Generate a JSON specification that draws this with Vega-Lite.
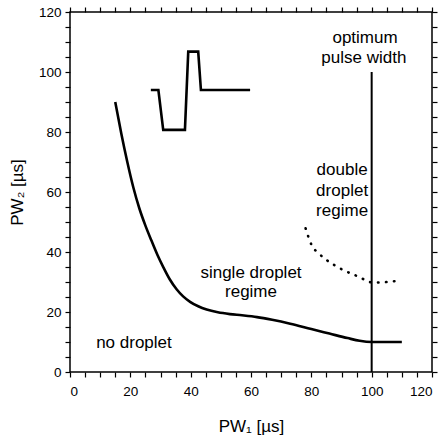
{
  "$schema": "https://vega.github.io/schema/vega-lite/v6.json",
  "width": 362,
  "height": 360,
  "autosize": {"type": "none"},
  "padding": {"left": 70, "top": 12, "right": 13, "bottom": 71},
  "background": "white",
  "config": {
    "view": {"stroke": null},
    "font": "Liberation Sans",
    "axis": {
      "labelFont": "Liberation Sans",
      "labelFontSize": 13.5,
      "labelColor": "black",
      "titleFont": "Liberation Sans",
      "titleFontSize": 17,
      "titleFontWeight": "normal",
      "titleColor": "black"
    }
  },
  "datasets": {
    "main": [
      {"x": 15, "y": 90}, {"x": 17, "y": 79.5}, {"x": 19, "y": 70}, {"x": 21, "y": 61.5}, {"x": 23, "y": 54.5},
      {"x": 25, "y": 48.8}, {"x": 27, "y": 43.8}, {"x": 29, "y": 39}, {"x": 31, "y": 34.8}, {"x": 33, "y": 31},
      {"x": 35.4, "y": 27.5}, {"x": 37.5, "y": 25.2},
      {"x": 39.8, "y": 23.4}, {"x": 42.5, "y": 21.9}, {"x": 45.3, "y": 20.8}, {"x": 49, "y": 19.9}, {"x": 53, "y": 19.3}, {"x": 57, "y": 18.9}, {"x": 62, "y": 18.3},
      {"x": 67, "y": 17.4}, {"x": 73, "y": 16.1}, {"x": 80, "y": 14.3}, {"x": 86, "y": 12.8},
      {"x": 92, "y": 11.3}, {"x": 96, "y": 10.4}, {"x": 100, "y": 10}, {"x": 110, "y": 10}
    ],
    "dotted": [
      {"x": 78.1, "y": 47.9}, {"x": 80.1, "y": 42.3}, {"x": 82.5, "y": 39.5}, {"x": 85.1, "y": 37.3},
      {"x": 90.6, "y": 34}, {"x": 95.6, "y": 31.8}, {"x": 100.5, "y": 29.8}, {"x": 105, "y": 30},
      {"x": 110, "y": 30.6}
    ],
    "optimum": [{"x": 100, "y": 0}, {"x": 100, "y": 100}],
    "inset": [
      {"i": 0, "x": 26.8, "y": 94}, {"i": 1, "x": 29.3, "y": 94}, {"i": 2, "x": 30.9, "y": 80.7},
      {"i": 3, "x": 38.1, "y": 80.7}, {"i": 4, "x": 39.2, "y": 106.8}, {"i": 5, "x": 42.5, "y": 106.8},
      {"i": 6, "x": 43.4, "y": 94}, {"i": 7, "x": 59.7, "y": 94}
    ],
    "frame": [
      {"i": 0, "x": 0, "y": 0}, {"i": 1, "x": 120, "y": 0}, {"i": 2, "x": 120, "y": 120},
      {"i": 3, "x": 0, "y": 120}, {"i": 4, "x": 0, "y": 0}
    ],
    "labels": [
      {"x": 97.8, "y": 111.3, "text": "optimum"},
      {"x": 97.4, "y": 104.7, "text": "pulse width"},
      {"x": 90.2, "y": 67.3, "text": "double"},
      {"x": 90.2, "y": 60.3, "text": "droplet"},
      {"x": 90.2, "y": 53.7, "text": "regime"},
      {"x": 60, "y": 32.9, "text": "single droplet"},
      {"x": 60, "y": 26.8, "text": "regime"},
      {"x": 21.2, "y": 9.6, "text": "no droplet"}
    ]
  },
  "layer": [
    {
      "data": {"name": "main"},
      "mark": {"type": "line", "color": "black", "strokeWidth": 2.6, "interpolate": "monotone"},
      "encoding": {
        "x": {
          "field": "x", "type": "quantitative",
          "scale": {"domain": [0, 120], "nice": false},
          "axis": {
            "orient": "bottom",
            "domain": false,
            "ticks": true, "tickColor": "black", "tickWidth": 1.2, "tickSize": 5,
            "grid": false,
            "values": [0,5,10,15,20,25,30,35,40,45,50,55,60,65,70,75,80,85,90,95,100,105,110,115,120],
            "labelExpr": "datum.value % 20 === 0 ? datum.label : ''",
            "labelPadding": 7,
            "title": "PW₁ [µs]",
            "titlePadding": 21
          }
        },
        "y": {
          "field": "y", "type": "quantitative",
          "scale": {"domain": [0, 120], "nice": false},
          "axis": {
            "orient": "left",
            "domain": false,
            "ticks": true, "tickColor": "black", "tickWidth": 1.2, "tickSize": 5,
            "grid": false,
            "values": [0,5,10,15,20,25,30,35,40,45,50,55,60,65,70,75,80,85,90,95,100,105,110,115,120],
            "labelExpr": "datum.value % 20 === 0 ? datum.label : ''",
            "labelPadding": 4,
            "title": "PW₂ [µs]",
            "titlePadding": 12
          }
        }
      }
    },
    {
      "data": {"name": "dotted"},
      "mark": {"type": "line", "color": "black", "strokeWidth": 2.6, "interpolate": "monotone", "strokeDash": [0.5, 7.5], "strokeCap": "round"},
      "encoding": {
        "x": {
          "field": "x", "type": "quantitative",
          "scale": {"domain": [0, 120], "nice": false},
          "axis": {
            "orient": "top",
            "domain": false,
            "ticks": true, "tickColor": "black", "tickWidth": 1.2, "tickSize": 5,
            "grid": false,
            "values": [0,5,10,15,20,25,30,35,40,45,50,55,60,65,70,75,80,85,90,95,100,105,110,115,120],
            "labels": false,
            "title": null
          }
        },
        "y": {
          "field": "y", "type": "quantitative",
          "scale": {"domain": [0, 120], "nice": false},
          "axis": {
            "orient": "right",
            "domain": false,
            "ticks": true, "tickColor": "black", "tickWidth": 1.2, "tickSize": 5,
            "grid": false,
            "values": [0,5,10,15,20,25,30,35,40,45,50,55,60,65,70,75,80,85,90,95,100,105,110,115,120],
            "labels": false,
            "title": null
          }
        }
      }
    },
    {
      "data": {"name": "frame"},
      "mark": {"type": "line", "color": "black", "strokeWidth": 1.5, "strokeJoin": "miter"},
      "encoding": {
        "x": {"field": "x", "type": "quantitative", "axis": null},
        "y": {"field": "y", "type": "quantitative", "axis": null},
        "order": {"field": "i", "type": "quantitative"}
      }
    },
    {
      "data": {"name": "optimum"},
      "mark": {"type": "line", "color": "black", "strokeWidth": 2},
      "encoding": {
        "x": {"field": "x", "type": "quantitative", "axis": null},
        "y": {"field": "y", "type": "quantitative", "axis": null}
      }
    },
    {
      "data": {"name": "inset"},
      "mark": {"type": "line", "color": "black", "strokeWidth": 2.6, "strokeJoin": "miter"},
      "encoding": {
        "x": {"field": "x", "type": "quantitative", "axis": null},
        "y": {"field": "y", "type": "quantitative", "axis": null},
        "order": {"field": "i", "type": "quantitative"}
      }
    },
    {
      "data": {"name": "labels"},
      "mark": {"type": "text", "font": "Liberation Sans", "fontSize": 17, "color": "black", "align": "center", "baseline": "middle"},
      "encoding": {
        "x": {"field": "x", "type": "quantitative", "axis": null},
        "y": {"field": "y", "type": "quantitative", "axis": null},
        "text": {"field": "text", "type": "nominal"}
      }
    }
  ],
  "resolve": {"axis": {"x": "independent", "y": "independent"}}
}
